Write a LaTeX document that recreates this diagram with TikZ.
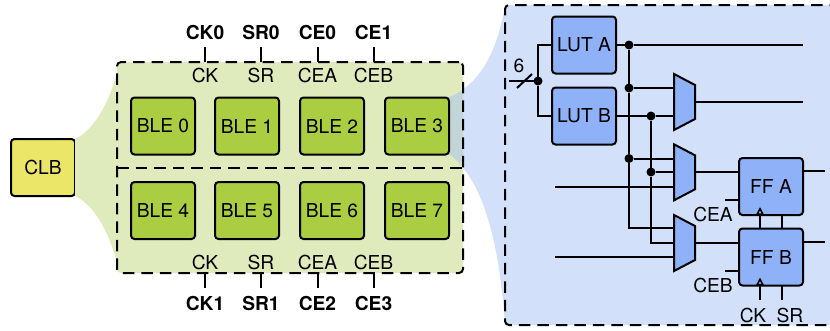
\documentclass[tikz,border=0pt]{standalone}
\usepackage{fontspec}
\setmainfont{TeX Gyre Heros}
\usetikzlibrary{arrows.meta}
\definecolor{clbyellow}{HTML}{EBE668}
\definecolor{blegreen}{HTML}{AACD41}
\definecolor{boxgreen}{HTML}{E0EBBD}
\definecolor{lutblue}{HTML}{8FB1F7}
\definecolor{panelblue}{HTML}{D2E0FA}
\definecolor{funnelblue}{HTML}{A5C1F5}
\tikzset{
  every node/.style={font=\fontsize{19.2}{21}\selectfont,inner sep=0pt,outer sep=0pt},
  wire/.style={line width=2pt},
  block/.style={draw,line width=2pt,rounded corners=3.5pt,minimum width=64pt,minimum height=57pt},
  dashbox/.style={draw,line width=2pt,dash pattern=on 11.5pt off 7pt,rounded corners=4pt},
  dotnode/.style={circle,fill=black,minimum size=9pt},
  muxshape/.style={draw,line width=2pt,fill=lutblue,line join=miter},
  sigbold/.style={font=\fontsize{19.2}{21}\selectfont\bfseries,minimum height=30pt},
  clockarrow/.style={wire,-{Triangle[open,length=8pt,width=8pt,line width=1.6pt]}}
}
\begin{document}
\begin{tikzpicture}[x=1pt,y=-1pt]
  \useasboundingbox (0,0) rectangle (830,330);
  \clip (0,0) rectangle (830,330);
  % CLB and the green funnel
  \node[block,fill=clbyellow] (clb) at (43,167.5) {CLB};
  \fill[boxgreen] (clb.north east) .. controls (95,130) and (110,100) .. (117,72)
    -- (117,263) .. controls (110,235) and (95,205) .. (clb.south east) -- cycle;
  \node[fill=boxgreen,minimum width=346pt,minimum height=211pt,rounded corners=4pt] (bgbox) at (290,167.5) {};
  % BLE 3 and the blue funnel
  \coordinate (ble3ne) at (449,97);
  \coordinate (ble3se) at (449,154);
  \fill[funnelblue,opacity=0.5] (ble3ne) .. controls (480,85) and (498,50) .. (505,5)
    -- (505,325) .. controls (500,250) and (485,180) .. (ble3se) -- cycle;
  \node[dashbox,minimum width=346pt,minimum height=211pt] (clbbox) at (290,167.5) {};
  \draw[wire,dash pattern=on 11.5pt off 7pt] (clbbox.west |- clb) -- (clbbox.east |- clb);
  % BLEs
  \foreach \n/\x/\y in {0/163/126,1/247/126,2/332/126,3/417/126,4/163/210.5,5/247/210.5,6/332/210.5,7/417/210.5}
    \node[block,fill=blegreen] (ble\n) at (\x,\y) {BLE \n};
  % shared control signals
  \foreach \n/\x/\s/\t/\b in {a/205/CK/CK0/CK1,b/261/SR/SR0/SR1,c/317.5/CEA/CE0/CE2,d/373.5/CEB/CE1/CE3} {
    \node (top\n) at (\x,75) {\s};
    \node (bot\n) at (\x,262) {\s};
    \node[sigbold] (sigt\n) at (\x,32) {\t};
    \node[sigbold] (sigb\n) at (\x,303) {\b};
    \draw[wire] (sigt\n.south) -- (sigt\n.south |- clbbox.north);
    \draw[wire] (sigb\n.north) -- (sigb\n.north |- clbbox.south);
  }
  % expanded BLE
  \node[dashbox,fill=panelblue,minimum width=340pt,minimum height=320pt,anchor=north west] (panel) at (505,5) {};
  \node[block,fill=lutblue] (luta) at (584,45) {LUT A};
  \node[block,fill=lutblue] (lutb) at (584,116) {LUT B};
  \node[block,fill=lutblue] (ffa) at (771,186.5) {FF A};
  \node[block,fill=lutblue] (ffb) at (771,257) {FF B};
  \node[dotnode] (dotin) at (538,81) {};
  \node[dotnode] (dota) at (629,45) {};
  \node[dotnode] (dotb) at (629,88) {};
  \node[dotnode] (dotc) at (629,158.5) {};
  \node[dotnode] (dotd) at (651,116) {};
  \node[dotnode] (dote) at (651,172) {};
  \coordinate (in6) at (509,81);
  \coordinate (ext2) at (555,186.7);
  \coordinate (ext3) at (555,257);
  \coordinate (m1a) at (674,88);
  \coordinate (m1b) at (674,116);
  \coordinate (m1o) at (695,102);
  \coordinate (m2a) at (674,158.5);
  \coordinate (m2b) at (674,172);
  \coordinate (m2c) at (674,186.7);
  \coordinate (m2o) at (695,172);
  \coordinate (m3a) at (674,228);
  \coordinate (m3b) at (674,243);
  \coordinate (m3c) at (674,257);
  \coordinate (m3o) at (695,243);
  \coordinate (outa) at (803,45);
  \coordinate (outb) at (803,102);
  \coordinate (ffao) at (825,171);
  \coordinate (ffbo) at (825,242);
  % wires
  \draw[wire] (in6) -- (dotin);
  \draw[wire] (luta.west) -| (dotin) |- (lutb.west);
  \draw[wire] (517,88) -- (532,74);
  \node (width6) at (519,66) {6};
  \draw[wire] (luta.east) -- (dota) -- (outa);
  \draw[wire] (dota) -- (dotb) -- (dotc) |- (m3a);
  \draw[wire] (dotb) -- (m1a);
  \draw[wire] (dotc) -- (m2a);
  \draw[wire] (lutb.east) -- (dotd) -- (m1b);
  \draw[wire] (dotd) -- (dote) |- (m3b);
  \draw[wire] (dote) -- (m2b);
  \draw[wire] (ext2) -- (m2c);
  \draw[wire] (ext3) -- (m3c);
  \draw[wire] (m1o) -- (outb);
  \draw[wire] (m2o) -- (m2o -| ffa.west);
  \draw[wire] (m3o) -- (m3o -| ffb.west);
  \draw[wire] (ffa.east |- ffao) -- (ffao);
  \draw[wire] (ffb.east |- ffbo) -- (ffbo);
  % muxes
  \foreach \y in {102,172.3,243}
    \draw[muxshape] (674,\y-28) -- (695,\y-17) -- (695,\y+17) -- (674,\y+28) -- cycle;
  % FF controls
  \coordinate (cetaila) at (725,200);
  \coordinate (cetailb) at (725,271);
  \coordinate (clka) at (760,207);
  \coordinate (clkb) at (760,277.5);
  \coordinate (srfoot) at (782,300);
  \draw[wire] (cetaila) -- (cetaila -| ffa.west);
  \draw[wire] (cetailb) -- (cetailb -| ffb.west);
  \draw[clockarrow] (clka |- ffb.north) -- (clka);
  \draw[clockarrow] (clkb |- srfoot) -- (clkb);
  \draw[wire] (srfoot |- ffb.north) -- (srfoot |- ffa.south);
  \draw[wire] (srfoot) -- (srfoot |- ffb.south);
  \node (labcea) at (713,214.5) {CEA};
  \node (labceb) at (713,285) {CEB};
  \node (labck) at (753,315) {CK};
  \node (labsr) at (790,315) {SR};
\end{tikzpicture}
\end{document}
